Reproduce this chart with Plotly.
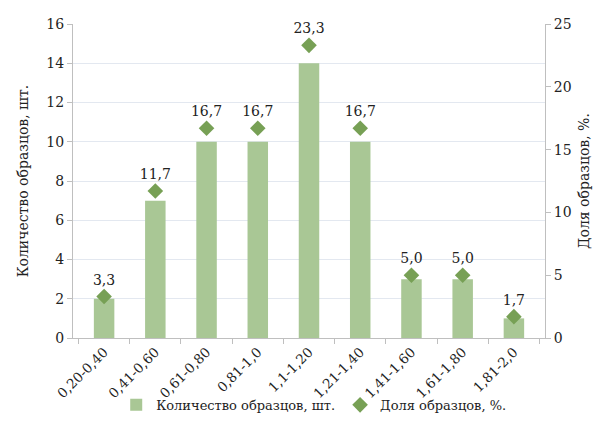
import plotly.graph_objects as go

categories = ["0,20-0,40", "0,41-0,60", "0,61-0,80", "0,81-1,0", "1,1-1,20",
              "1,21-1,40", "1,41-1,60", "1,61-1,80", "1,81-2,0"]
counts = [2, 7, 10, 10, 14, 10, 3, 3, 1]
shares = [3.3, 11.7, 16.7, 16.7, 23.3, 16.7, 5.0, 5.0, 1.7]

FONT = "DejaVu Serif"

fig = go.Figure()
fig.add_trace(go.Bar(
    x=categories, y=counts, name="Количество образцов, шт.",
    marker=dict(color="#A9C795", line=dict(width=0)), width=0.4,
))
fig.add_trace(go.Scatter(
    x=categories, y=shares, name="Доля образцов, %.", yaxis="y2",
    mode="markers+text", marker=dict(symbol="diamond", size=12, color="#77A055"),
    text=[f"{v:.1f}".replace(".", ",") for v in shares],
    textposition="top center", textfont=dict(family=FONT, size=14, color="#222"),
    cliponaxis=False,
))

fig.update_layout(
    width=601, height=432,
    margin=dict(l=73, r=56, t=24, b=94),
    plot_bgcolor="white", paper_bgcolor="white",
    font=dict(family=FONT, size=14, color="#222"),
    separators=",.",
    showlegend=True,
    legend=dict(orientation="h", x=0.51, xanchor="center", y=-0.213, yanchor="middle",
                bgcolor="rgba(0,0,0,0)",
                font=dict(family=FONT, size=13), traceorder="normal"),
    xaxis=dict(type="category", tickangle=-45, showline=True, linecolor="#BFBFBF",
               ticks="outside", tickson="boundaries", tickcolor="#BFBFBF", ticklen=5,
               tickfont=dict(family=FONT, size=13.5), automargin=False),
    yaxis=dict(range=[0, 16], dtick=2, showline=True, linecolor="#BFBFBF",
               ticks="outside", tickcolor="#BFBFBF", ticklen=5, automargin=False,
               gridcolor="#E3E8F0", zeroline=False, tickfont=dict(family=FONT, size=14),
               title=dict(text="Количество образцов, шт.", font=dict(family=FONT, size=14), standoff=14)),
    yaxis2=dict(range=[0, 25], dtick=5, overlaying="y", side="right", showline=True,
                linecolor="#BFBFBF", ticks="outside", tickcolor="#BFBFBF", ticklen=5,
                showgrid=False, zeroline=False, automargin=False,
                tickfont=dict(family=FONT, size=14),
                title=dict(text="Доля образцов, %.", font=dict(family=FONT, size=14), standoff=8)),
)

fig.write_html("out.html")
